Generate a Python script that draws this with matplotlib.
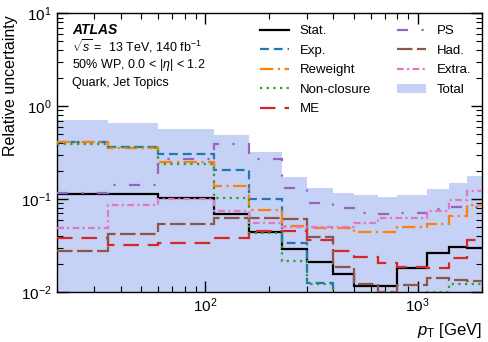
import matplotlib
matplotlib.use("Agg")
from matplotlib import pyplot as plt

plt.rcParams['font.family'] = ['Liberation Sans', 'DejaVu Sans']
plt.rcParams['mathtext.fontset'] = 'custom'
plt.rcParams['mathtext.rm'] = 'Liberation Sans'
plt.rcParams['mathtext.it'] = 'Liberation Sans:italic'
plt.rcParams['mathtext.bf'] = 'Liberation Sans:bold'

# pT bin edges [GeV]
edges = [20, 35, 60, 110, 160, 230, 300, 400, 500, 650, 800, 1100, 1400, 1700, 2000]

stat = [0.114, 0.114, 0.102, 0.0686, 0.044, 0.0288, 0.0209, 0.0156, 0.0117, 0.0117, 0.018, 0.0265, 0.0307, 0.030]
exp_ = [0.407, 0.366, 0.306, 0.206, 0.100, 0.0334, 0.0125, 0.005, 0.005, 0.005, 0.005, 0.005, 0.005, 0.005]
reweight = [0.412, 0.352, 0.253, 0.139, 0.0763, 0.051, 0.0492, 0.049, 0.0446, 0.0446, 0.0497, 0.0535, 0.0658, 0.0864]
nonclosure = [0.389, 0.36, 0.237, 0.102, 0.0435, 0.0216, 0.0122, 0.005, 0.005, 0.005, 0.005, 0.0101, 0.0122, 0.0122]
me = [0.0379, 0.0321, 0.034, 0.0379, 0.0457, 0.0457, 0.0363, 0.0276, 0.0236, 0.0207, 0.0186, 0.018, 0.023, 0.0366]
ps = [0.115, 0.142, 0.267, 0.392, 0.27, 0.132, 0.0897, 0.080, 0.0717, 0.069, 0.070, 0.078, 0.083, 0.082]
had = [0.0276, 0.0421, 0.054, 0.0626, 0.0626, 0.0606, 0.0388, 0.0187, 0.0122, 0.0101, 0.012, 0.014, 0.0135, 0.0131]
extra = [0.0485, 0.0864, 0.100, 0.074, 0.0549, 0.0505, 0.0497, 0.0497, 0.0557, 0.063, 0.063, 0.0745, 0.0985, 0.123]
total = [0.71, 0.665, 0.564, 0.49, 0.319, 0.174, 0.131, 0.117, 0.112, 0.1045, 0.111, 0.128, 0.148, 0.177]

fig = plt.figure(figsize=(4.88, 3.42), dpi=100)
ax = fig.add_axes([0.1162, 0.1462, 0.8709, 0.8149])

ax.stairs(total, edges, fill=True, baseline=1e-4, color='royalblue', alpha=0.3,
          linewidth=0, label='Total', zorder=1)

lw = 1.6
ax.stairs(stat, edges, baseline=None, color='black', lw=lw, ls='-', label='Stat.', zorder=3)
ax.stairs(exp_, edges, baseline=None, color='#1f77b4', lw=lw, ls=(0, (4, 2.2)), label='Exp.', zorder=3)
ax.stairs(reweight, edges, baseline=None, color='#ff7f0e', lw=lw, ls=(0, (6, 2, 1, 2)), label='Reweight', zorder=3)
ax.stairs(nonclosure, edges, baseline=None, color='#2ca02c', lw=lw, ls=(0, (1, 2)), label='Non-closure', zorder=3)
ax.stairs(me, edges, baseline=None, color='#d62728', lw=lw, ls=(0, (7, 4)), label='ME', zorder=3)
ax.stairs(ps, edges, baseline=None, color='#9467bd', lw=lw, ls=(0, (5, 6, 1, 6)), label='PS', zorder=3)
ax.stairs(had, edges, baseline=None, color='#8c564b', lw=lw, ls=(0, (7, 2)), label='Had.', zorder=3)
ax.stairs(extra, edges, baseline=None, color='#e377c2', lw=lw, ls=(0, (3, 1.5, 1, 1.5)), label='Extra.', zorder=3)

ax.set_xscale('log')
ax.set_yscale('log')
ax.set_xlim(20, 2000)
ax.set_ylim(1e-2, 10)

ax.tick_params(which='both', direction='in', top=True, right=True, labelsize=11)
ax.tick_params(which='major', length=8, width=1)
ax.tick_params(which='minor', length=4, width=0.8)
for s in ax.spines.values():
    s.set_linewidth(1.0)

ax.set_ylabel('Relative uncertainty', fontsize=11.5, va='center')
ax.yaxis.set_label_coords(-0.108, 0.741)
ax.set_xlabel(r'$p_{\mathrm{T}}$ [GeV]', fontsize=12, loc='right')

ax.text(0.036, 0.94, 'ATLAS', transform=ax.transAxes, fontsize=10,
        fontweight='bold', fontstyle='italic', va='center')
ax.text(0.036, 0.882, r'$\sqrt{s}$ =  13 TeV, 140 fb$^{-1}$', transform=ax.transAxes,
        fontsize=9, va='center')
ax.text(0.036, 0.815, r'50% WP, 0.0 < |$\eta$| < 1.2', transform=ax.transAxes,
        fontsize=9, va='center')
ax.text(0.036, 0.75, 'Quark, Jet Topics', transform=ax.transAxes,
        fontsize=9, va='center')

handles, labels = ax.get_legend_handles_labels()
order = ['Stat.', 'Exp.', 'Reweight', 'Non-closure', 'ME', 'PS', 'Had.', 'Extra.', 'Total']
hmap = dict(zip(labels, handles))
leg = ax.legend([hmap[k] for k in order], order, ncol=2, frameon=False, fontsize=9.5,
                loc='upper left', bbox_to_anchor=(0.45, 1.0), handlelength=2.2,
                columnspacing=2.0, labelspacing=0.55, handletextpad=0.8)

fig.savefig('out.png', dpi=100)
